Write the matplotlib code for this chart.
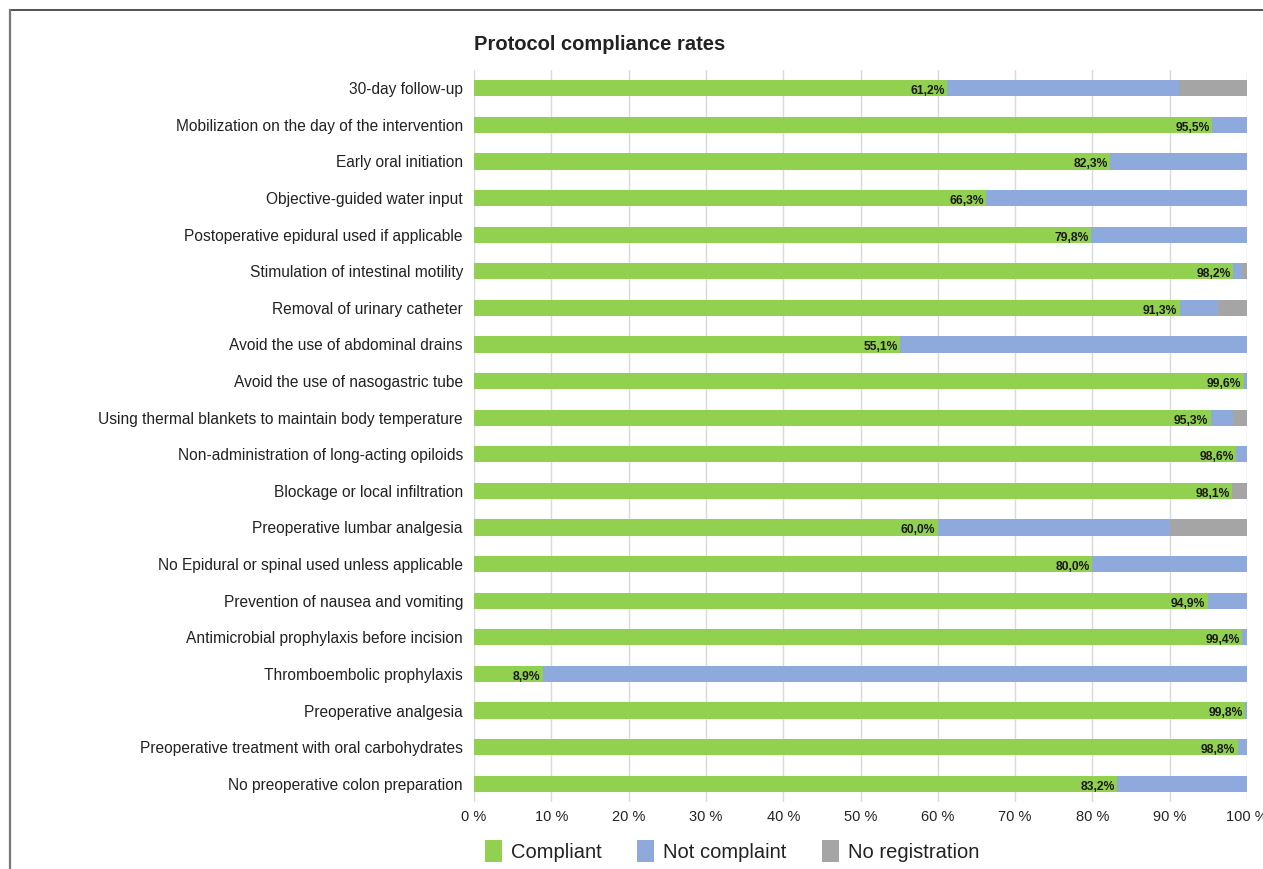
import matplotlib.pyplot as plt
from matplotlib.lines import Line2D
from matplotlib.patches import Patch
from matplotlib.ticker import FuncFormatter

plt.rcParams['font.family'] = ['Liberation Sans', 'DejaVu Sans']

items = [
    "30-day follow-up",
    "Mobilization on the day of the intervention",
    "Early oral initiation",
    "Objective-guided water input",
    "Postoperative epidural used if applicable",
    "Stimulation of intestinal motility",
    "Removal of urinary catheter",
    "Avoid the use of abdominal drains",
    "Avoid the use of nasogastric tube",
    "Using thermal blankets to maintain body temperature",
    "Non-administration of long-acting opiloids",
    "Blockage or local infiltration",
    "Preoperative lumbar analgesia",
    "No Epidural or spinal used unless applicable",
    "Prevention of nausea and vomiting",
    "Antimicrobial prophylaxis before incision",
    "Thromboembolic prophylaxis",
    "Preoperative analgesia",
    "Preoperative treatment with oral carbohydrates",
    "No preoperative colon preparation",
]
compliant = [61.2, 95.5, 82.3, 66.3, 79.8, 98.2, 91.3, 55.1, 99.6, 95.3,
             98.6, 98.1, 60.0, 80.0, 94.9, 99.4, 8.9, 99.8, 98.8, 83.2]
no_registration = [8.8, 0.0, 0.0, 0.0, 0.0, 0.6, 3.8, 0.0, 0.0, 1.8,
                   0.0, 1.9, 10.0, 0.0, 0.0, 0.0, 0.0, 0.0, 0.0, 0.0]
not_compliant = [round(100 - c - n, 1) for c, n in zip(compliant, no_registration)]

series_names = ["Compliant", "Not complaint", "No registration"]
colors = ["#92D050", "#8EA9DB", "#A5A5A5"]
title = "Protocol compliance rates"

fig = plt.figure(figsize=(12.63, 8.69), dpi=100)
ax = fig.add_axes([474 / 1263, 1 - 802 / 869, (1247 - 474) / 1263, (802 - 70) / 869])

y = list(range(len(items)))
h = 0.44
ax.barh(y, compliant, height=h, color=colors[0], zorder=2)
ax.barh(y, not_compliant, left=compliant, height=h, color=colors[1], zorder=2)
left2 = [c + n for c, n in zip(compliant, not_compliant)]
ax.barh(y, no_registration, left=left2, height=h, color=colors[2], zorder=2)

for yi, c in zip(y, compliant):
    ax.text(c - 0.3, yi + 0.08, f"{c:.1f}%".replace(".", ","), ha="right", va="center",
            fontsize=8.7, fontweight="bold", color="#1a1a1a", zorder=3,
            family=["Liberation Sans Narrow", "Liberation Sans", "DejaVu Sans"])

ax.set_xlim(0, 100)
ax.set_ylim(len(items) - 0.5, -0.5)
ax.set_yticks(y)
ax.set_yticklabels(items, fontsize=11.2, color="#222222")
ax.set_xticks(range(0, 101, 10))
ax.xaxis.set_major_formatter(FuncFormatter(lambda v, p: f"{int(v)} %"))
ax.tick_params(axis="x", labelsize=10.5, colors="#222222", length=0, pad=6)
ax.tick_params(axis="y", length=0, pad=8)
ax.grid(axis="x", color="#d9d9d9", linewidth=1.0, zorder=0)
for s in ax.spines.values():
    s.set_visible(False)

fig.text(474 / 1263, 1 - 45 / 869, title, fontsize=14.5, fontweight="bold",
         color="#222222", va="center", ha="left")

handles = [Patch(facecolor=c, edgecolor="none") for c in colors]
fig.legend(handles, series_names, loc="center left", bbox_to_anchor=(467 / 1263, 1 - 851 / 869),
           ncol=3, frameon=False, fontsize=14.5, handlelength=0.85, handleheight=1.3,
           handletextpad=0.45, columnspacing=1.75, labelcolor="#222222")

# outer frame lines
fig.add_artist(Line2D([10 / 1263, 1], [1 - 10 / 869, 1 - 10 / 869], color="#333333",
                      linewidth=1.2, transform=fig.transFigure))
fig.add_artist(Line2D([10 / 1263, 10 / 1263], [0, 1 - 10 / 869], color="#777777",
                      linewidth=1.6, transform=fig.transFigure))

fig.savefig("out.png", dpi=100)
